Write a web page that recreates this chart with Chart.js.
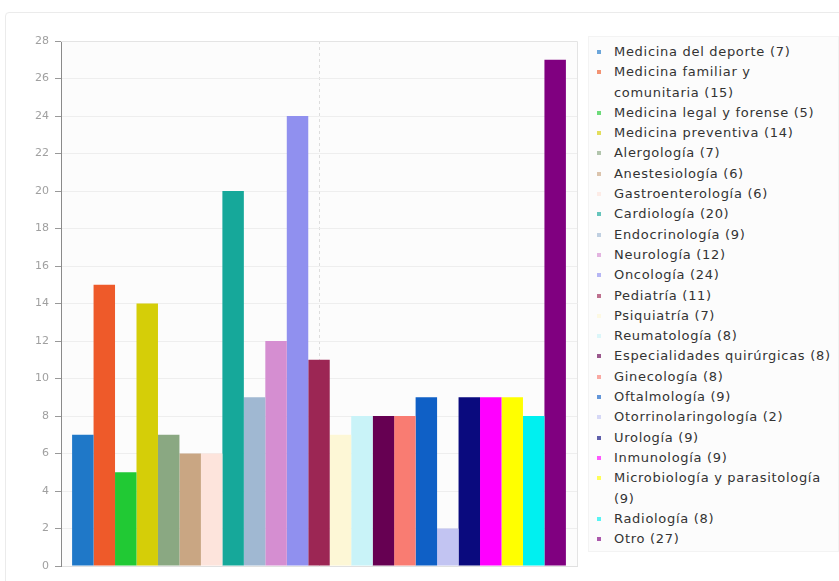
<!DOCTYPE html>
<html><head><meta charset="utf-8">
<script src="https://cdn.jsdelivr.net/npm/chart.js@4.4.1/dist/chart.umd.min.js"></script>
<style>
html,body{margin:0;padding:0;background:#fff;width:839px;height:581px;overflow:hidden;position:relative;}
#panel{position:absolute;left:5px;top:12px;width:840px;height:580px;border:1px solid #ebebeb;border-radius:4px;box-sizing:border-box;}
#wrap{position:absolute;left:0;top:0;width:839px;height:581px;}
#legend{position:absolute;left:588px;top:36px;width:251px;height:516px;box-sizing:border-box;padding-top:5px;background:#fcfcfc;border:1px solid #f3f3f3;font-family:"DejaVu Sans";font-size:13px;letter-spacing:0.7px;color:#333;}
.item{display:flex;align-items:flex-start;line-height:20.3px;}
.mk{width:4px;height:4px;margin:8px 13px 0 8px;flex:none;}
.tx{width:224px;}
</style>
</head>
<body>
<div id="panel"></div>
<div id="wrap"><canvas id="c" width="839" height="581"></canvas></div>
<div id="legend"></div>
<script>
const categories = [
  "Medicina del deporte", "Medicina familiar y comunitaria", "Medicina legal y forense",
  "Medicina preventiva", "Alergología", "Anestesiología", "Gastroenterología",
  "Cardiología", "Endocrinología", "Neurología", "Oncología", "Pediatría",
  "Psiquiatría", "Reumatología", "Especialidades quirúrgicas", "Ginecología",
  "Oftalmología", "Otorrinolaringología", "Urología", "Inmunología",
  "Microbiología y parasitología", "Radiología", "Otro"
];
const values = [7, 15, 5, 14, 7, 6, 6, 20, 9, 12, 24, 11, 7, 8, 8, 8, 9, 2, 9, 9, 9, 8, 27];
const colors = [
  "#1f78c8", "#ee5a2a", "#21c934", "#d5ce08", "#8aa882", "#c9a683", "#fde4dc",
  "#16a89a", "#a0b8d2", "#d58ed1", "#9090ef", "#9c2654", "#fdf7d6", "#c9f3f8",
  "#660052", "#f97c72", "#0f60c6", "#c2c4f2", "#0a0a7e", "#ff00ff", "#ffff00",
  "#00f0f0", "#800080"
];
const yTicks = [0, 2, 4, 6, 8, 10, 12, 14, 16, 18, 20, 22, 24, 26, 28];

const datasets = categories.map((name, i) => ({
  label: name + " (" + values[i] + ")",
  data: [values[i]],
  backgroundColor: colors[i],
  borderWidth: 0,
  categoryPercentage: 0.957,
  barPercentage: 1.0
}));

const plotBg = {
  id: 'plotBg',
  beforeDraw(chart) {
    const {ctx, chartArea: a} = chart;
    ctx.save();
    ctx.fillStyle = '#fcfcfc';
    ctx.fillRect(a.left, a.top, a.right - a.left, a.bottom - a.top);
    ctx.restore();
  },
  afterDraw(chart) {
    const {ctx, chartArea: a} = chart;
    ctx.save();
    ctx.strokeStyle = '#e4e4e4';
    ctx.lineWidth = 1;
    ctx.beginPath();
    ctx.moveTo(a.left, a.top + 0.5);
    ctx.lineTo(a.right + 0.5, a.top + 0.5);
    ctx.lineTo(a.right + 0.5, a.bottom);
    ctx.stroke();
    ctx.restore();
  }
};

new Chart(document.getElementById('c'), {
  type: 'bar',
  data: { labels: [""], datasets },
  plugins: [plotBg],
  options: {
    responsive: false,
    animation: false,
    layout: { padding: { left: 0, right: 262, top: 41, bottom: 15 } },
    plugins: { legend: { display: false }, tooltip: { enabled: false } },
    scales: {
      x: {
        offset: true,
        grid: { offset: false, color: '#dddddd', drawTicks: false },
        border: { display: true, color: '#e0e0e0', dash: [3, 3] },
        ticks: { display: false }
      },
      y: {
        min: 0, max: 28,
        afterFit(scale) { scale.width = 61; },
        afterBuildTicks(scale) { scale.ticks = yTicks.map(v => ({ value: v })); },
        grid: { color: '#eeeeee', tickColor: '#999999', tickLength: 6 },
        border: { color: '#8a8a8a', width: 1 },
        ticks: { color: '#a0a0a0', padding: 6, font: { family: 'DejaVu Sans', size: 11 } }
      }
    }
  }
});

const legend = document.getElementById('legend');
categories.forEach((name, i) => {
  const item = document.createElement('div');
  item.className = 'item';
  const mk = document.createElement('span');
  mk.className = 'mk';
  mk.style.background = colors[i];
  mk.style.opacity = '0.65';
  const tx = document.createElement('span');
  tx.className = 'tx';
  tx.textContent = name + " (" + values[i] + ")";
  item.appendChild(mk);
  item.appendChild(tx);
  legend.appendChild(item);
});
</script>
</body></html>
